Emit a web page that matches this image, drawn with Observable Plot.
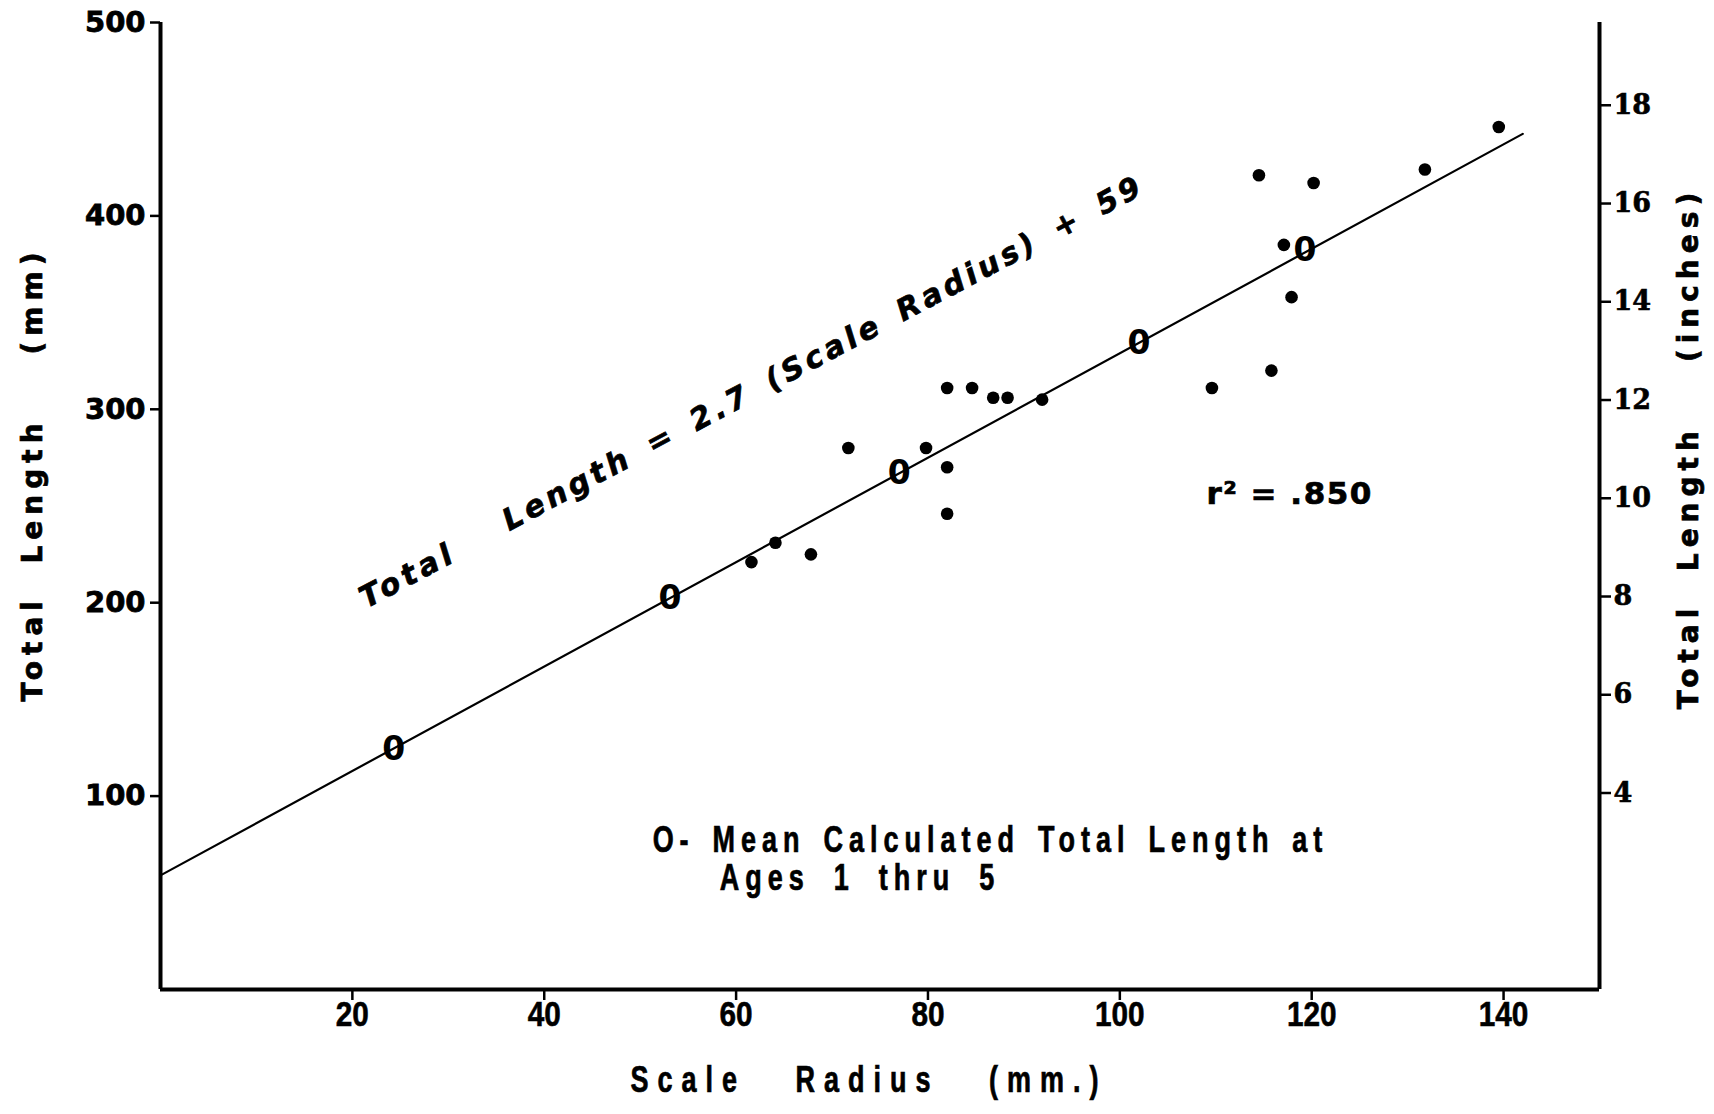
<!DOCTYPE html>
<html><head><meta charset="utf-8">
<script src="https://cdn.jsdelivr.net/npm/d3@7"></script>
<script src="https://cdn.jsdelivr.net/npm/@observablehq/plot@0.6"></script>
<style>
body{margin:0;background:#fff;}
#chart svg text{white-space:pre;}
</style></head><body><div id="chart"></div>
<script>
// Axis ticks
const xTicks = [20, 40, 60, 80, 100, 120, 140];
const yTicks = [100, 200, 300, 400, 500];
const inchTicks = [4, 6, 8, 10, 12, 14, 16, 18];

// Individual fish: scale radius (mm) and total length (mm)
const radius = [61.6, 64.1, 67.8, 71.7, 79.8, 82.0, 84.6, 82.0, 82.0, 86.8, 88.3, 91.9, 109.6, 114.5, 115.8, 117.1, 117.9, 120.2, 131.8, 139.5];
const totalLength = [221, 231, 225, 280, 280, 311, 311, 270, 246, 306, 306, 305, 311, 421, 320, 385, 358, 417, 424, 446];

// Mean calculated total length at ages 1 thru 5
const meanAge = [1, 2, 3, 4, 5];
const meanRadius = [24.3, 53.1, 77.0, 102.0, 119.3];
const meanLength = [124, 202, 267, 334, 382];

// Regression: Total Length = 2.7 (Scale Radius) + 59
const slope = 2.7, intercept = 59;
const lineRadius = [0, 142];

// Labels
const xTitle = "Scale   Radius   (mm.)";
const yTitle = "Total  Length    (mm)";
const y2Title = "Total  Length    (inches)";
const eqWord1 = "Total";
const eqRest = "Length = 2.7 (Scale Radius) + 59";
const rText = "r² = .850";
const legend1 = "O- Mean Calculated Total Length at";
const legend2 = "Ages 1 thru 5";

const points = radius.map((r, i) => ({r, l: totalLength[i]}));
const means = meanAge.map((a, i) => ({a, r: meanRadius[i], l: meanLength[i]}));
const fit = lineRadius.map(r => ({r, l: slope * r + intercept}));

const bold = {fontWeight: "bold", fill: "black"};
const sans = "DejaVu Sans";
const arial = "Liberation Sans";
const chart = Plot.plot({
  width: 1714, height: 1114,
  marginLeft: 160, marginRight: 115, marginTop: 22, marginBottom: 125,
  style: {background: "white", color: "black", overflow: "visible"},
  x: {domain: [0, 150]},
  y: {domain: [0, 500]},
  marks: [
    Plot.axisY(yTicks, {anchor: "left", label: null, tickSize: 10, tickPadding: 5, strokeWidth: 2.5,
      fontSize: 29, fontFamily: sans, fontWeight: "bold"}),
    Plot.axisY(inchTicks.map(d => d * 25.4), {anchor: "right", label: null, tickSize: 11, tickPadding: 3, strokeWidth: 2.5,
      tickFormat: d => String(Math.round(d / 25.4)), fontSize: 27, fontFamily: "DejaVu Serif", fontWeight: "bold"}),
    Plot.axisX(xTicks, {anchor: "bottom", label: null, tickSize: 11, tickPadding: 1, strokeWidth: 2.5,
      fontSize: 35, fontFamily: arial, fontWeight: "bold"}),
    Plot.ruleX([0, 150], {y1: 0, y2: 500, strokeWidth: 4}),
    Plot.ruleY([0], {x1: 0, x2: 150, strokeWidth: 4}),
    Plot.line(fit, {x: "r", y: "l", strokeWidth: 2.2}),
    Plot.dot(points, {x: "r", y: "l", r: 6.3, fill: "black", stroke: "none"}),
    Plot.text(means, {x: "r", y: "l", text: () => "0", fontSize: 33, fontFamily: sans, ...bold}),
    // axis titles
    Plot.text([xTitle], {frameAnchor: "bottom", dx: -11, dy: 102, fontSize: 36, fontFamily: arial, ...bold, text: d => d}),
    Plot.text([yTitle], {frameAnchor: "left", textAnchor: "middle", rotate: -90, dx: -127, dy: -32, fontSize: 28, fontFamily: sans, ...bold, text: d => d}),
    Plot.text([y2Title], {frameAnchor: "right", textAnchor: "middle", rotate: -90, dx: 90, dy: -58, fontSize: 28, fontFamily: sans, ...bold, text: d => d}),
    // equation along the line
    Plot.text([eqWord1], {x: 25.8, y: 214, rotate: -28, fontSize: 30, fontFamily: sans, fontStyle: "italic", ...bold, text: d => d}),
    Plot.text([eqRest], {x: 69.1, y: 329, rotate: -28, fontSize: 30, fontFamily: sans, fontStyle: "italic", ...bold, text: d => d}),
    Plot.text([rText], {x: 117.7, y: 256, fontSize: 31, fontFamily: sans, ...bold, text: d => d}),
    Plot.text([legend1], {x: 51.3, y: 77.3, textAnchor: "start", fontSize: 36, fontFamily: arial, ...bold, text: d => d}),
    Plot.text([legend2], {x: 58.3, y: 57.4, textAnchor: "start", fontSize: 36, fontFamily: arial, ...bold, text: d => d})
  ]
});

// text styling that Plot has no options for (letter spacing, condensing), matched by text
const heavy = {stroke: "black", strokeWidth: "0.7px"};
const textStyles = new Map([
  [xTitle, [{letterSpacing: "12px", ...heavy}, 0.75]],
  [yTitle, [{letterSpacing: "6px", ...heavy}]],
  [y2Title, [{letterSpacing: "6px", ...heavy}]],
  [eqWord1, [{letterSpacing: "4.5px", ...heavy}]],
  [eqRest, [{letterSpacing: "4px", wordSpacing: "6px", ...heavy}]],
  [rText, [{letterSpacing: "1.5px", ...heavy}]],
  [legend1, [{letterSpacing: "8px", wordSpacing: "6px", ...heavy}, 0.75]],
  [legend2, [{letterSpacing: "8px", wordSpacing: "14px", ...heavy}, 0.75]]
]);
const leftLabels = new Set(yTicks.map(String));
const rightLabels = new Set(inchTicks.map(String));
const bottomLabels = new Set(xTicks.map(String));
chart.querySelectorAll("text").forEach(t => {
  const c = t.textContent;
  const tr = t.getAttribute("transform") || "";
  const s = textStyles.get(c);
  if (s) {
    Object.assign(t.style, s[0]);
    if (s[1]) t.setAttribute("transform", `${tr} scale(${s[1]},1)`);
    return;
  }
  const m = /translate\(([-\d.]+),\s*([-\d.]+)/.exec(tr);
  if (!m) return;
  const tx = +m[1], ty = +m[2];
  if (leftLabels.has(c) && Math.abs(tx - 160) < 2) Object.assign(t.style, {stroke: "black", strokeWidth: "0.8px"});
  else if (rightLabels.has(c) && Math.abs(tx - 1599) < 2) Object.assign(t.style, {stroke: "black", strokeWidth: "0.6px"});
  else if (bottomLabels.has(c) && Math.abs(ty - 989) < 2) {
    Object.assign(t.style, {stroke: "black", strokeWidth: "0.6px"});
    t.setAttribute("transform", `${tr} scale(0.85,1)`);
  }
});

document.getElementById("chart").append(chart);
</script>
</body></html>
